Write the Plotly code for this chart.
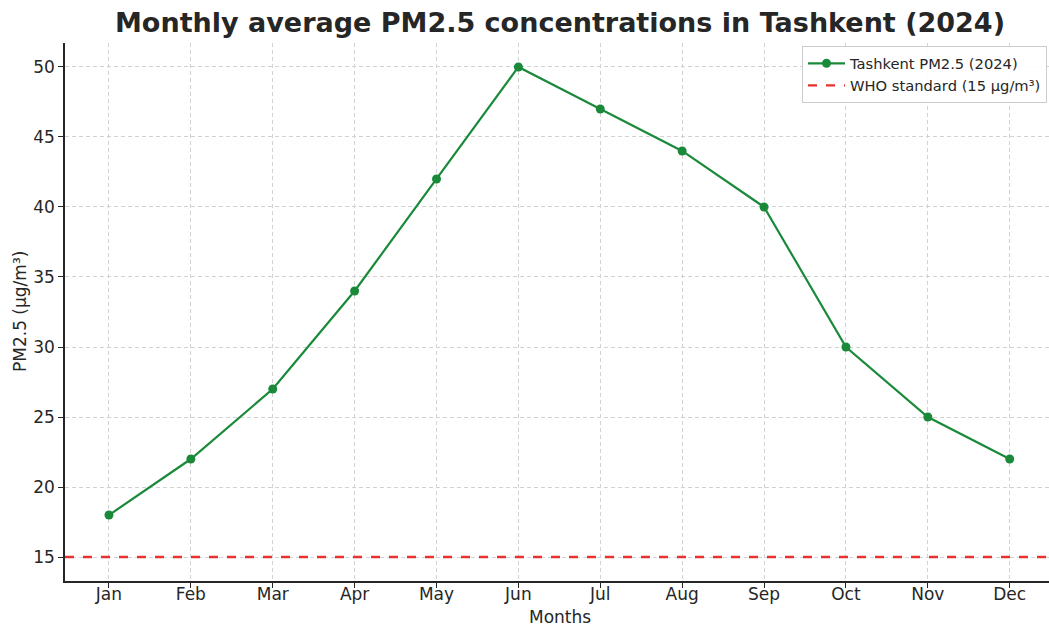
import plotly.graph_objects as go

months = ["Jan", "Feb", "Mar", "Apr", "May", "Jun", "Jul", "Aug", "Sep", "Oct", "Nov", "Dec"]
pm25 = [18, 22, 27, 34, 42, 50, 47, 44, 40, 30, 25, 22]
who_standard = 15
y_ticks = [15, 20, 25, 30, 35, 40, 45, 50]

GREEN = "#1a8a3a"
RED = "#e8322e"
TXT = "#262626"
FONT = "DejaVu Sans"

W, H = 1049, 628

fig = go.Figure()
fig.add_trace(go.Scatter(
    x=months, y=pm25, mode="lines+markers", name="Tashkent PM2.5 (2024)",
    line=dict(color=GREEN, width=2.2), marker=dict(color=GREEN, size=9),
))
fig.add_trace(go.Scatter(
    x=[None], y=[None], mode="lines", name="WHO standard (15 µg/m³)",
    line=dict(color=RED, width=2.2, dash="dash"),
))
fig.add_hline(y=who_standard, line=dict(color=RED, width=2.6, dash="dash"), layer="above")

fig.update_layout(
    width=W, height=H,
    margin=dict(l=65, r=0, t=43, b=47, autoexpand=False),
    paper_bgcolor="white", plot_bgcolor="white",
    font=dict(family=FONT, color=TXT, size=17),
    title=dict(text="<b>Monthly average PM2.5 concentrations in Tashkent (2024)</b>",
               x=560 / W, xanchor="center", y=1 - 23 / H, yanchor="middle",
               font=dict(size=27, color=TXT, family=FONT)),
    showlegend=True,
    legend=dict(x=0.749, y=0.994, xanchor="left", yanchor="top",
                bgcolor="rgba(255,255,255,0.9)", bordercolor="#cccccc", borderwidth=1,
                font=dict(size=14.7, color=TXT, family=FONT), tracegroupgap=0,
                itemwidth=37),
    annotations=[
        dict(text="Months", xref="paper", yref="paper", x=0.503, y=0, yshift=-36,
             xanchor="center", yanchor="middle", showarrow=False, font=dict(size=17, color=TXT)),
        dict(text="PM2.5 (µg/m³)", xref="paper", yref="paper", x=0, y=0.5, xshift=-45,
             xanchor="center", yanchor="middle", textangle=-90, showarrow=False,
             font=dict(size=17, color=TXT)),
    ],
)
fig.update_xaxes(
    type="category", range=[-0.537, 11.48], automargin=False,
    showline=True, linecolor=TXT, linewidth=1.5, mirror=False,
    ticks="outside", ticklen=5, tickcolor=TXT, tickwidth=1.2,
    showgrid=True, gridcolor="#d2d2d2", griddash="4px,3px", gridwidth=0.9,
    tickfont=dict(size=17), zeroline=False, ticklabelstandoff=-8,
)
fig.update_yaxes(
    range=[13.29, 51.71], tickvals=y_ticks, automargin=False,
    showline=True, linecolor=TXT, linewidth=1.5, mirror=False,
    ticks="outside", ticklen=5, tickcolor=TXT, tickwidth=1.2,
    showgrid=True, gridcolor="#d2d2d2", griddash="4px,3px", gridwidth=0.9,
    tickfont=dict(size=17), zeroline=False,
)

fig.write_html(
    "out.html",
    config={"displayModeBar": False},
    post_script="document.body.style.margin='0';document.body.style.overflow='hidden';",
)
